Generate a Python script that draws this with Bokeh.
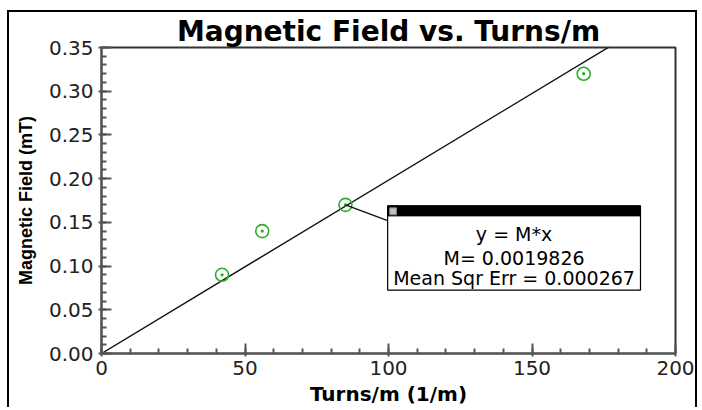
from bokeh.plotting import figure
from bokeh.models import Range1d, FixedTicker, BoxAnnotation, Label
from bokeh.embed import file_html
from bokeh.resources import INLINE

# ---- data ----
turns_per_m = [42, 56, 85, 168]
field_mT = [0.09, 0.14, 0.17, 0.32]
fit_slope = 0.0019826
fit_mse = 0.000267
x_ticks = [0, 50, 100, 150, 200]
x_minor = list(range(0, 201, 10))
y_ticks = [0.00, 0.05, 0.10, 0.15, 0.20, 0.25, 0.30, 0.35]
y_tick_labels = ["0.00", "0.05", "0.10", "0.15", "0.20", "0.25", "0.30", "0.35"]
y_minor = [i / 100 for i in range(0, 36)]
fit_x = [0, 200]
fit_y = [fit_slope * v for v in fit_x]

p = figure(width=690, height=397, output_backend="svg", toolbar_location=None,
           x_range=Range1d(0, 200), y_range=Range1d(0, 0.35),
           min_border_left=92, min_border_right=24, min_border_top=32, min_border_bottom=56,
           title="Magnetic Field vs. Turns/m")
p.styles = {"border-top": "2px solid black", "border-left": "2px solid black",
            "border-right": "2px solid black", "margin-top": "10px", "margin-left": "7px"}

p.title.align = "center"
p.title.text_font = "DejaVu Sans"
p.title.text_font_style = "bold"
p.title.text_font_size = "28px"
p.title.text_color = "black"
p.title.standoff = 0
p.title.offset = 0

p.grid.visible = False
p.outline_line_color = "#333333"
p.outline_line_width = 2
p.background_fill_color = "white"
p.border_fill_color = "white"

for ax in (p.xaxis[0], p.yaxis[0]):
    ax.axis_line_color = "#555555"
    ax.axis_line_width = 2
    ax.major_tick_line_color = "#555555"
    ax.minor_tick_line_color = "#555555"
    ax.major_tick_line_width = 2
    ax.minor_tick_line_width = 2
    ax.major_tick_in = 10
    ax.major_tick_out = 3
    ax.minor_tick_in = 5
    ax.minor_tick_out = 0
    ax.major_label_text_font = "DejaVu Sans"
    ax.major_label_text_font_size = "20px"
    ax.major_label_text_color = "#222222"
    ax.axis_label_text_font_style = "bold"
    ax.axis_label_text_color = "black"

p.xaxis.ticker = FixedTicker(ticks=x_ticks, minor_ticks=x_minor)
p.yaxis.ticker = FixedTicker(ticks=y_ticks, minor_ticks=y_minor)
p.yaxis.major_label_overrides = {t: s for t, s in zip(y_ticks, y_tick_labels)}
p.xaxis.major_label_standoff = 4
p.yaxis.major_label_standoff = 5

p.xaxis.axis_label = "Turns/m (1/m)"
p.xaxis.axis_label_text_font = "DejaVu Sans"
p.xaxis.axis_label_text_font_size = "20px"
p.xaxis.axis_label_standoff = 4
p.yaxis.axis_label = "Magnetic Field (mT)"
p.yaxis.axis_label_text_font = "Liberation Sans"
p.yaxis.axis_label_text_font_size = "18px"
p.yaxis.axis_label_standoff = 10

# fit line
p.line(fit_x, fit_y, line_color="#111111", line_width=1.4)

# data points
p.scatter(turns_per_m, field_mT, marker="circle_dot", size=13,
          fill_color=None, line_color="#2aae2a", line_width=1.6)

# annotation box (layout positions)
bx_l, bx_r, bx_b, bx_t = 99.7, 187.8, 0.0725, 0.1688
bar_b = 0.1574
p.line([turns_per_m[2], bx_l], [field_mT[2], 0.152], line_color="#111111", line_width=1.4)
p.add_layout(BoxAnnotation(left=bx_l, right=bx_r, bottom=bx_b, top=bx_t,
                           fill_color="white", fill_alpha=1.0,
                           line_color="black", line_width=1.2, line_alpha=1.0))
p.add_layout(BoxAnnotation(left=bx_l, right=bx_r, bottom=bar_b, top=bx_t,
                           fill_color="black", fill_alpha=1.0,
                           line_color="black", line_alpha=1.0))
p.add_layout(BoxAnnotation(left=100.4, right=102.8, bottom=0.1586, top=0.1666,
                           fill_color="#c0c0c0", fill_alpha=1.0,
                           line_color="#808080", line_alpha=1.0, line_width=1))

cx = (bx_l + bx_r) / 2
texts = ["y = M*x", "M= %.7f" % fit_slope, "Mean Sqr Err = %.6f" % fit_mse]
ys = [0.137, 0.1087, 0.0861]
for t, yy in zip(texts, ys):
    p.add_layout(Label(x=cx, y=yy, text=t, text_align="center", text_baseline="middle",
                       text_font="DejaVu Sans", text_font_size="19px", text_color="black"))

open("out.html", "w").write(file_html(p, INLINE))
